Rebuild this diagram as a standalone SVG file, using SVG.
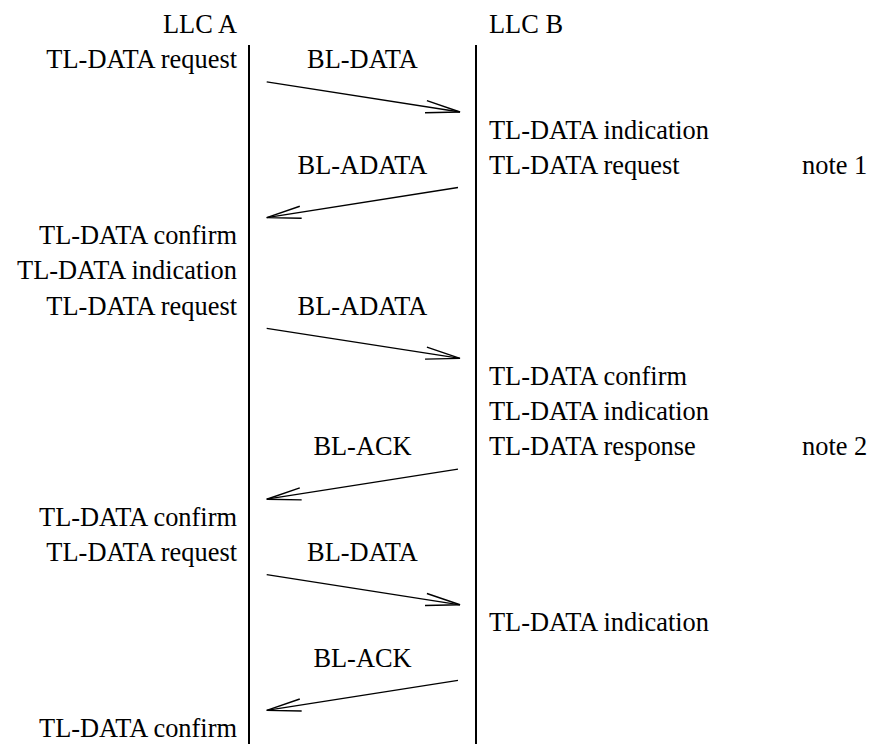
<svg xmlns="http://www.w3.org/2000/svg" width="869" height="744" viewBox="0 0 869 744">
<defs>
<marker id="open" markerUnits="userSpaceOnUse" markerWidth="40" markerHeight="20" viewBox="-33 -8 36 16" refX="0" refY="0" orient="auto" overflow="visible">
<path d="M-31,-5.5 L0,0 L-31,5.5" fill="none" stroke="#000" stroke-width="1.3"/>
</marker>
</defs>
<rect width="869" height="744" fill="#fff"/>
<text x="237" y="33" font-family="Times New Roman" font-size="26.4" text-anchor="end">LLC A</text>
<text x="237" y="68.2" font-family="Times New Roman" font-size="26.4" text-anchor="end">TL-DATA request</text>
<text x="237" y="244.2" font-family="Times New Roman" font-size="26.4" text-anchor="end">TL-DATA confirm</text>
<text x="237" y="279.4" font-family="Times New Roman" font-size="26.4" text-anchor="end">TL-DATA indication</text>
<text x="237" y="314.6" font-family="Times New Roman" font-size="26.4" text-anchor="end">TL-DATA request</text>
<text x="237" y="525.8" font-family="Times New Roman" font-size="26.4" text-anchor="end">TL-DATA confirm</text>
<text x="237" y="561" font-family="Times New Roman" font-size="26.4" text-anchor="end">TL-DATA request</text>
<text x="237" y="737" font-family="Times New Roman" font-size="26.4" text-anchor="end">TL-DATA confirm</text>
<text x="489" y="33" font-family="Times New Roman" font-size="26.4">LLC B</text>
<text x="489" y="138.6" font-family="Times New Roman" font-size="26.4">TL-DATA indication</text>
<text x="489" y="173.8" font-family="Times New Roman" font-size="26.4">TL-DATA request</text>
<text x="802" y="173.8" font-family="Times New Roman" font-size="26.4">note 1</text>
<text x="489" y="385" font-family="Times New Roman" font-size="26.4">TL-DATA confirm</text>
<text x="489" y="420.2" font-family="Times New Roman" font-size="26.4">TL-DATA indication</text>
<text x="489" y="455.4" font-family="Times New Roman" font-size="26.4">TL-DATA response</text>
<text x="802" y="455.4" font-family="Times New Roman" font-size="26.4">note 2</text>
<text x="489" y="631.4" font-family="Times New Roman" font-size="26.4">TL-DATA indication</text>
<text x="362.5" y="68.2" font-family="Times New Roman" font-size="26.4" text-anchor="middle">BL-DATA</text>
<text x="362.5" y="173.8" font-family="Times New Roman" font-size="26.4" text-anchor="middle">BL-ADATA</text>
<text x="362.5" y="314.6" font-family="Times New Roman" font-size="26.4" text-anchor="middle">BL-ADATA</text>
<text x="362.5" y="455.4" font-family="Times New Roman" font-size="26.4" text-anchor="middle">BL-ACK</text>
<text x="362.5" y="561" font-family="Times New Roman" font-size="26.4" text-anchor="middle">BL-DATA</text>
<text x="362.5" y="666.6" font-family="Times New Roman" font-size="26.4" text-anchor="middle">BL-ACK</text>
<g id="llcA"><line x1="249" y1="45" x2="249" y2="744" stroke="#000" stroke-width="2"/></g>
<g id="llcB"><line x1="476" y1="45" x2="476" y2="744" stroke="#000" stroke-width="2"/></g>
<g id="connectors" stroke="#000" stroke-width="1.3" fill="none" marker-end="url(#open)">
<line x1="266.7" y1="81.9" x2="460" y2="112"/>
<line x1="458" y1="187.5" x2="266.7" y2="217.6"/>
<line x1="266.7" y1="328.3" x2="460" y2="358.4"/>
<line x1="458" y1="469.1" x2="266.7" y2="499.2"/>
<line x1="266.7" y1="574.7" x2="460" y2="604.8"/>
<line x1="458" y1="680.3" x2="266.7" y2="710.4"/>
</g>
</svg>
